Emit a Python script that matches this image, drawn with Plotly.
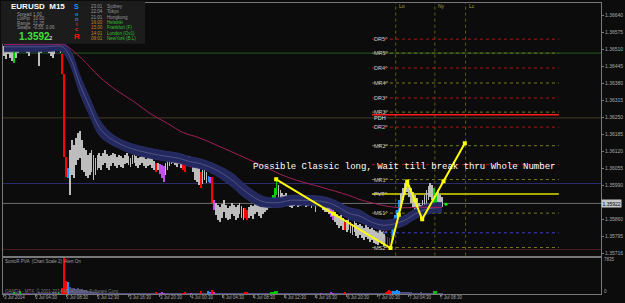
import plotly.graph_objects as go

# ---------------- data ----------------
bar_high = [
    1.36523, 1.36515, 1.36527, 1.36519, 1.36512, 1.36504, 1.36515, 1.36527, 1.36531, 1.36527,
    1.36531, 1.36534, 1.36527, 1.36523, 1.36531, 1.36538, 1.36542, 1.36542, 1.36523, 1.36531,
    1.36534, 1.36538, 1.36534, 1.36527, 1.36519, 1.36515, 1.36523, 1.36527, 1.36531, 1.36527,
    1.36493, 1.36417, 1.36098, 1.36056, 1.36124, 1.36162, 1.36143, 1.36170, 1.36189, 1.36200,
    1.36162, 1.36132, 1.36124, 1.36105, 1.36116, 1.36124, 1.36105, 1.36094, 1.36105, 1.36113,
    1.36101, 1.36116, 1.36124, 1.36109, 1.36101, 1.36105, 1.36116, 1.36109, 1.36098, 1.36105,
    1.36101, 1.36094, 1.36105, 1.36113, 1.36101, 1.36094, 1.36105, 1.36109, 1.36101, 1.36094,
    1.36098, 1.36105, 1.36098, 1.36090, 1.36094, 1.36098, 1.36090, 1.36082, 1.36075, 1.36078,
    1.36071, 1.36067, 1.36063, 1.36075, 1.36086, 1.36094, 1.36101, 1.36105, 1.36098, 1.36094,
    1.36101, 1.36094, 1.36086, 1.36086, 1.36094, 1.36101, 1.36094, 1.36086, 1.36075, 1.36067,
    1.36056, 1.36040, 1.36048, 1.36056, 1.36040, 1.36025, 1.36021, 1.36021, 1.35934, 1.35923,
    1.35915, 1.35907, 1.35919, 1.35934, 1.35915, 1.35904, 1.35911, 1.35923, 1.35915, 1.35907,
    1.35915, 1.35923, 1.35911, 1.35904, 1.35904, 1.35896, 1.35907, 1.35915, 1.35911, 1.35919,
    1.35923, 1.35915, 1.35907, 1.35915, 1.35923, 1.35934, 1.35926, 1.35934, 1.35953, 1.35980,
    1.36014, 1.35991, 1.35972, 1.35961, 1.35953, 1.35961, 1.35949, 1.35942, 1.35934, 1.35945,
    1.35938, 1.35942, 1.35934, 1.35938, 1.35942, 1.35934, 1.35938, 1.35942, 1.35934, 1.35938,
    1.35945, 1.35942, 1.35938, 1.35942, 1.35934, 1.35926, 1.35919, 1.35923, 1.35904, 1.35896,
    1.35888, 1.35881, 1.35873, 1.35877, 1.35866, 1.35850, 1.35858, 1.35866, 1.35850, 1.35843,
    1.35854, 1.35847, 1.35839, 1.35843, 1.35835, 1.35828, 1.35839, 1.35831, 1.35824, 1.35828,
    1.35820, 1.35812, 1.35809, 1.35820, 1.35812, 1.35805, 1.35797, 1.35793, 1.35790, 1.35820,
    1.35831, 1.35877, 1.35896, 1.35934, 1.35961, 1.35980, 1.35999, 1.36006, 1.35991, 1.35980,
    1.35964, 1.35953, 1.35942, 1.35923, 1.35915, 1.35934, 1.35953, 1.35972, 1.35987, 1.35999,
    1.35991, 1.35980, 1.35961, 1.35972, 1.35953, 1.35945,
]
bar_low = [
    1.36485, 1.36474, 1.36493, 1.36477, 1.36466, 1.36458, 1.36477, 1.36496, 1.36512, 1.36504,
    1.36508, 1.36512, 1.36496, 1.36485, 1.36504, 1.36515, 1.36519, 1.36512, 1.36447, 1.36496,
    1.36508, 1.36512, 1.36504, 1.36496, 1.36485, 1.36477, 1.36493, 1.36504, 1.36512, 1.36496,
    1.36417, 1.36098, 1.36021, 1.36018, 1.35953, 1.36029, 1.36018, 1.36067, 1.36086, 1.36094,
    1.36048, 1.36040, 1.36025, 1.36018, 1.36029, 1.36040, 1.36010, 1.36029, 1.36048, 1.36056,
    1.36048, 1.36067, 1.36075, 1.36056, 1.36048, 1.36063, 1.36075, 1.36063, 1.36056, 1.36067,
    1.36060, 1.36056, 1.36071, 1.36078, 1.36067, 1.36060, 1.36071, 1.36078, 1.36063, 1.36056,
    1.36067, 1.36075, 1.36063, 1.36056, 1.36063, 1.36067, 1.36056, 1.36048, 1.36040, 1.36048,
    1.36033, 1.36018, 1.36002, 1.36029, 1.36048, 1.36063, 1.36071, 1.36078, 1.36067, 1.36060,
    1.36071, 1.36056, 1.36048, 1.36040, 1.36063, 1.36071, 1.36060, 1.36040, 1.36010, 1.36002,
    1.35991, 1.35980, 1.35995, 1.36010, 1.35999, 1.36002, 1.35999, 1.35923, 1.35896, 1.35877,
    1.35858, 1.35850, 1.35866, 1.35888, 1.35866, 1.35858, 1.35862, 1.35881, 1.35873, 1.35858,
    1.35866, 1.35881, 1.35866, 1.35858, 1.35866, 1.35858, 1.35866, 1.35873, 1.35862, 1.35881,
    1.35888, 1.35873, 1.35866, 1.35881, 1.35888, 1.35896, 1.35904, 1.35904, 1.35915, 1.35926,
    1.35953, 1.35934, 1.35919, 1.35907, 1.35915, 1.35923, 1.35911, 1.35907, 1.35904, 1.35911,
    1.35915, 1.35907, 1.35911, 1.35915, 1.35919, 1.35907, 1.35911, 1.35915, 1.35904, 1.35911,
    1.35888, 1.35915, 1.35911, 1.35919, 1.35896, 1.35888, 1.35888, 1.35881, 1.35869, 1.35858,
    1.35850, 1.35839, 1.35828, 1.35835, 1.35820, 1.35820, 1.35812, 1.35820, 1.35809, 1.35801,
    1.35812, 1.35797, 1.35790, 1.35801, 1.35790, 1.35782, 1.35793, 1.35786, 1.35774, 1.35782,
    1.35771, 1.35767, 1.35763, 1.35774, 1.35767, 1.35759, 1.35759, 1.35755, 1.35752, 1.35763,
    1.35782, 1.35820, 1.35839, 1.35877, 1.35907, 1.35934, 1.35953, 1.35964, 1.35945, 1.35923,
    1.35907, 1.35896, 1.35888, 1.35873, 1.35862, 1.35877, 1.35896, 1.35915, 1.35934, 1.35945,
    1.35934, 1.35915, 1.35904, 1.35926, 1.35915, 1.35907,
]
# PVA class of each bar: n normal, r/g climax, b/p rising volume
bar_class = list(
    "nnnnngnngn" "nnnnnnnnnn" "nnnnnnnngn" "rrrbnnnnnn" "nnnnnnnnnn"
    "nnnnnnnnnn" "nnnnnnnnnn" "nnnnnnnnrn" "pppnnnnnnn" "nnrrnnpnnn"
    "nrnnnbprpn" "nnnnnnnnnn" "nnnnrrnnnn" "nnnnnnnggg" "gnnnnnnnnn"
    "nnnnnnnnnn" "nnnpnnnnpp" "nnnnnrnnnn" "nnnnnnnnnn" "nnnnnnrrrr"
    "bbbbnnnnnn" "nnnnnnnnnn" "nggnnn"
)
volumes = [
    300, 250, 280, 320, 350, 600, 300, 280, 650, 400,
    260, 240, 300, 350, 280, 250, 220, 300, 450, 320,
    260, 240, 230, 280, 320, 500, 450, 300, 550, 400,
    1400, 7835, 2800, 2750, 1500, 1300, 1450, 1200, 1350, 1100,
    1250, 1000, 900, 800, 650, 600, 550, 500, 420, 380,
    350, 320, 300, 280, 300, 260, 240, 250, 230, 220,
    210, 230, 220, 200, 210, 190, 200, 180, 200, 210,
    190, 180, 200, 210, 190, 200, 220, 240, 450, 260,
    380, 420, 400, 260, 230, 210, 200, 190, 200, 210,
    200, 220, 380, 420, 230, 210, 350, 240, 280, 300,
    320, 650, 300, 280, 260, 700, 550, 950, 500, 350,
    320, 300, 280, 260, 280, 300, 260, 240, 250, 260,
    240, 230, 250, 260, 520, 600, 280, 250, 240, 230,
    220, 240, 230, 220, 210, 250, 260, 450, 550, 700,
    650, 320, 300, 260, 240, 230, 220, 210, 200, 210,
    200, 190, 200, 210, 190, 200, 180, 190, 200, 210,
    300, 210, 200, 350, 230, 240, 250, 260, 420, 400,
    300, 320, 340, 300, 320, 600, 300, 280, 300, 320,
    290, 300, 320, 300, 310, 330, 300, 320, 350, 330,
    340, 360, 350, 330, 350, 380, 600, 750, 850, 700,
    650, 800, 900, 700, 500, 520, 480, 550, 450, 420,
    400, 380, 360, 380, 420, 400, 380, 360, 340, 350,
    380, 650, 700, 360, 300, 250,
]

band_bars = [0, 10, 20, 30, 32, 35, 39, 44, 49, 54, 59, 65, 75, 84, 90, 95, 100, 105, 112, 118,
             122, 130, 135, 142, 147, 152, 163, 170, 177, 183, 189, 195, 202, 207, 210, 217, 225]
band_upper = [1.36538, 1.36538, 1.36538, 1.36538, 1.36527, 1.36493, 1.36409, 1.36325, 1.36242, 1.36196,
              1.36170, 1.36151, 1.36132, 1.36120, 1.36113, 1.36101, 1.36094, 1.36082, 1.36059, 1.36033,
              1.36006, 1.35961, 1.35945, 1.35945, 1.35953, 1.35953, 1.35949, 1.35934, 1.35907, 1.35896,
              1.35869, 1.35858, 1.35866, 1.35881, 1.35896, 1.35919, 1.35926]
band_mid = [1.36519, 1.36519, 1.36519, 1.36519, 1.36504, 1.36462, 1.36375, 1.36291, 1.36211, 1.36173,
            1.36151, 1.36132, 1.36113, 1.36101, 1.36094, 1.36082, 1.36075, 1.36063, 1.36037, 1.36006,
            1.35980, 1.35938, 1.35926, 1.35926, 1.35934, 1.35934, 1.35930, 1.35915, 1.35885, 1.35873,
            1.35850, 1.35839, 1.35847, 1.35862, 1.35877, 1.35900, 1.35907]
band_lower = [1.36500, 1.36500, 1.36500, 1.36500, 1.36481, 1.36432, 1.36341, 1.36257, 1.36181, 1.36151,
              1.36132, 1.36113, 1.36094, 1.36082, 1.36075, 1.36063, 1.36056, 1.36044, 1.36014, 1.35980,
              1.35953, 1.35915, 1.35907, 1.35907, 1.35915, 1.35915, 1.35911, 1.35896, 1.35862, 1.35850,
              1.35831, 1.35820, 1.35828, 1.35843, 1.35858, 1.35881, 1.35888]

ema_bars = [0, 30, 32, 40, 49, 58, 66, 75, 84, 92, 100, 112, 130, 146, 163, 177, 184, 201, 213, 225]
ema_vals = [1.36527, 1.36527, 1.36523, 1.36474, 1.36405, 1.36352, 1.36314, 1.36265, 1.36227, 1.36192,
            1.36173, 1.36135, 1.36075, 1.36021, 1.35984, 1.35953, 1.35934, 1.35907, 1.35907, 1.35907]

pivot_names = ["DR5^", "MR5^", "DR4^", "MR4^", "DR3^", "MR3^", "DR2^", "MR2^",
               "DR1^", "MR1^", "PVT^", "MS1^", "DS1^", "MS2^"]
pivot_prices = [1.36548, 1.36495, 1.36438, 1.36381, 1.36324, 1.36270, 1.36213, 1.36142,
                1.36070, 1.36013, 1.35958, 1.35885, 1.35810, 1.35754]
hidden_labels = ["DR1^"]  # covered by the comment text in the reference
pivot_start, pivot_end = 189, 285
pdh_price = 1.36260

level_prices = [1.36495, 1.36248, 1.35998, 1.35922, 1.35746]
level_colors = ["#1f5c1f", "#4a3a28", "#2c2c6a", "#6e6e6e", "#4a1e1e"]
bid_price = 1.35922

session_names = ["Lo", "Ny", "Lc"]
session_bars = [201.2, 221.3, 237.1]

zig_bars = [139.8, 198.5, 207.1, 214.8, 236.7]
zig_prices = [1.36014, 1.35752, 1.36006, 1.35862, 1.36151]
dot_bar, dot_price = 227, 1.35919

x_tick_bars = [0, 16, 32, 48, 64, 80, 96, 112, 128, 144, 160, 176, 192, 208, 224]
x_tick_labels = ["3 Jul 2014", "3 Jul 04:30", "3 Jul 08:30", "3 Jul 12:30", "3 Jul 16:30",
                 "3 Jul 20:30", "4 Jul 00:30", "4 Jul 04:30", "4 Jul 08:30", "4 Jul 12:30",
                 "4 Jul 16:30", "6 Jul 20:30", "7 Jul 00:30", "7 Jul 04:30", "7 Jul 08:30"]
price_ticks = [1.36640, 1.36575, 1.36510, 1.36445, 1.36380, 1.36315, 1.36250, 1.36185,
               1.36120, 1.36055, 1.35990, 1.35860, 1.35795, 1.35733]
price_tick_text = ["1.36640", "1.36575", "1.36510", "1.36445", "1.36380", "1.36315", "1.36250",
                   "1.36185", "1.36120", "1.36055", "1.35990", "1.35860", "1.35795", "1.35716"]
vol_max = 7835

# ---------------- styling / layout helpers ----------------
W, H = 625, 303
ML, MR, MT, MB = 2, 21, 2, 9
PW, PH = W - ML - MR, H - MT - MB


def px(x):
    return (x - ML) / PW


def py(y):
    return (H - MB - y) / PH


BG = "#0c0c0c"
AXC = "#a8a8a8"
FRAME = "#787878"
cand_col = {"n": "#bdbdbd", "r": "#ff0000", "g": "#00d000", "b": "#1e90ff", "p": "#c050f0"}
vol_col = {"n": "#4c4c80", "r": "#ff0000", "g": "#00c000", "b": "#1e90ff", "p": "#b040e0"}

n = len(bar_high)
xs = list(range(n))
XR = [-0.5, -0.5 + PW / 1.96]

fig = go.Figure()

# dragon band
fig.add_trace(go.Scatter(x=band_bars, y=band_upper, mode="lines", line=dict(color="#2e3372", width=0.8, shape="spline"),
                         hoverinfo="skip", showlegend=False))
fig.add_trace(go.Scatter(x=band_bars, y=band_lower, mode="lines", line=dict(color="#2e3372", width=0.8, shape="spline"),
                         fill="tonexty", fillcolor="#23285e", hoverinfo="skip", showlegend=False))
fig.add_trace(go.Scatter(x=band_bars, y=band_mid, mode="lines", line=dict(color="#6e70a0", width=0.6, shape="spline"),
                         hoverinfo="skip", showlegend=False))
# slow EMA
fig.add_trace(go.Scatter(x=ema_bars, y=ema_vals, mode="lines", line=dict(color="#a0205a", width=1, shape="spline"),
                         hoverinfo="skip", showlegend=False))

# price bars
fig.add_trace(go.Bar(x=xs, base=bar_low, y=[h - l for h, l in zip(bar_high, bar_low)], width=0.42,
                     marker=dict(color=[cand_col[c] for c in bar_class], line=dict(width=0)),
                     hoverinfo="skip", showlegend=False))

# yellow trend lines
mid_x = [(a + b) / 2 for a, b in zip(zig_bars[:-1], zig_bars[1:])]
mid_y = [(a + b) / 2 for a, b in zip(zig_prices[:-1], zig_prices[1:])]
fig.add_trace(go.Scatter(x=zig_bars, y=zig_prices, mode="lines", line=dict(color="#ffff00", width=2),
                         hoverinfo="skip", showlegend=False))
fig.add_trace(go.Scatter(x=zig_bars + mid_x, y=zig_prices + mid_y, mode="markers",
                         marker=dict(symbol="square", size=4, color="#ffff00"),
                         hoverinfo="skip", showlegend=False))
fig.add_trace(go.Scatter(x=[dot_bar], y=[dot_price], mode="markers",
                         marker=dict(symbol="circle", size=3, color="#00ff00"),
                         hoverinfo="skip", showlegend=False))

# volume subwindow
fig.add_trace(go.Bar(x=xs, y=volumes, width=0.5, xaxis="x2", yaxis="y2",
                     marker=dict(color=[vol_col[c] for c in bar_class], line=dict(width=0)),
                     hoverinfo="skip", showlegend=False))

shapes = []
# full-width levels
for p, c in zip(level_prices, level_colors):
    shapes.append(dict(type="line", xref="paper", yref="y", x0=0, x1=1, y0=p, y1=p,
                       line=dict(color=c, width=1), layer="below"))
# pivot levels
ann = []
for name, p in zip(pivot_names, pivot_prices):
    if name.startswith("DR"):
        col, dash, wd = "#b41414", "dot", 1
    elif name.startswith("DS"):
        col, dash, wd = "#3c3ce0", "dot", 1
    elif name.startswith("PVT"):
        col, dash, wd = "#a8a800", "solid", 2
    else:
        col, dash, wd = "#7a7a18", "dot", 1
    shapes.append(dict(type="line", xref="x", yref="y", x0=pivot_start, x1=pivot_end, y0=p, y1=p,
                       line=dict(color=col, width=wd, dash=dash), layer="below"))
    if name not in hidden_labels:
        ann.append(dict(xref="x", yref="y", x=pivot_start, y=p, text=name, showarrow=False,
                        xanchor="left", yanchor="middle",
                        font=dict(size=5.5, color="#c8c8c8", family="Liberation Sans")))
shapes.append(dict(type="line", xref="x", yref="y", x0=pivot_start, x1=pivot_end, y0=pdh_price, y1=pdh_price,
                   line=dict(color="#ff1a1a", width=1.5), layer="below"))
ann.append(dict(xref="x", yref="y", x=pivot_start, y=1.36246, text="PDH", showarrow=False, xanchor="left",
                yanchor="middle", font=dict(size=5.5, color="#e0e0e0", family="Liberation Sans")))
# session lines
for nm, b in zip(session_names, session_bars):
    shapes.append(dict(type="line", xref="x", yref="y domain", x0=b, x1=b, y0=0, y1=1,
                       line=dict(color="#5e5e14", width=1, dash="dot"), layer="below"))
    ann.append(dict(xref="x", yref="paper", x=b, y=py(5), text=nm, showarrow=False, xanchor="left",
                    yanchor="middle", xshift=1, font=dict(size=5, color="#a0a040", family="Liberation Sans")))

# info panel
shapes.append(dict(type="rect", xref="paper", yref="paper", x0=px(0), x1=px(145), y0=py(0), y1=py(43),
                   fillcolor="#1c1c1c", line=dict(width=0), layer="above"))


def txt(x, y, s, size=4.5, color="#9a9a9a", bold=False, family="Liberation Sans", anchor="left"):
    ann.append(dict(xref="paper", yref="paper", x=px(x), y=py(y), text=("<b>%s</b>" % s) if bold else s,
                    showarrow=False, xanchor=anchor, yanchor="middle", borderpad=0,
                    font=dict(size=size, color=color, family=family)))


txt(9, 6, "EURUSD&nbsp;&nbsp;M15", 8, "#ffffff", bold=True)
for yy, lab, val in [(13.5, "Spread", "1.00"), (18, "LotPip", "10.00"), (22.5, "Range", "21.25"), (27, "Swaps", "-0.55, 0.06")]:
    txt(15, yy, lab)
    txt(31, yy, val)
txt(17, 36, "1.3592", 10, "#3ee03e", bold=True)
txt(47, 37, "2", 6, "#ffffff")
for yy, ch, col, sz in [(6, "S", "#1e90ff", 7), (13, "o", "#1e90ff", 5.5), (18.5, "n", "#4070ff", 5.5),
                        (23.5, "i", "#c04040", 5.5), (28.5, "c", "#e03030", 5.5), (35.5, "R", "#ff1010", 8)]:
    txt(76, yy, ch, sz, col, bold=True, anchor="center")
sess = [("23:01", "Sydney", "#9a9a9a", "#9a9a9a"), ("22:04", "Tokyo", "#9a9a9a", "#9a9a9a"),
        ("21:01", "Hongkong", "#9a9a9a", "#9a9a9a"), ("16:00", "Helsinki", "#d08020", "#30c030"),
        ("15:00", "Frankfurt (F)", "#d08020", "#30c030"), ("14:01", "London (Ov1)", "#d08020", "#30c030"),
        ("09:01", "NewYork (B.L)", "#d08020", "#30c030")]
for i, (t, nm, c1, c2) in enumerate(sess):
    yy = 5.3 + i * 5.4
    txt(90, yy, t, 4.5, c1)
    txt(106, yy, nm, 4.5, c2)

# comment text
txt(253, 167, "Possible Classic long, Wait till break thru Whole Number", 9, "#ffffff", family="Liberation Mono")

# subwindow texts
txt(3, 261, "SonicR PVA  (Chart Scale 2)  Alert On", 4.5, "#a0a0a0")
txt(3, 290.5, "OANDA - MT4, © 2001-2014 MetaQuotes Software Corp.", 4.5, "#7a7a7a")
txt(606, 259.5, str(vol_max), 4.5, AXC)
txt(606, 291, "0", 4.5, AXC)

# current price box
ann.append(dict(xref="paper", yref="y", x=1.0, y=bid_price, text="1.35922", showarrow=False, xanchor="left",
                yanchor="middle", bgcolor="#c8c8c8", borderpad=0.5,
                font=dict(size=5, color="#000000", family="Liberation Sans")))

# time labels
for b, lab in zip(x_tick_bars, x_tick_labels):
    ann.append(dict(xref="x2", yref="paper", x=b, y=py(298), text=lab, showarrow=False, xanchor="left",
                    yanchor="middle", xshift=-2, font=dict(size=4.5, color=AXC, family="Liberation Sans")))

fig.update_layout(
    width=W, height=H, margin=dict(l=ML, r=MR, t=MT, b=MB),
    paper_bgcolor=BG, plot_bgcolor=BG, barmode="overlay", bargap=0,
    xaxis=dict(domain=[0, 1], range=XR, anchor="y", showgrid=False, zeroline=False, showticklabels=False,
               showline=True, mirror=True, linecolor=FRAME, linewidth=1, ticks=""),
    yaxis=dict(domain=[py(255.5), 1], range=[1.35723, 1.36686], side="right", showgrid=False, zeroline=False,
               tickvals=price_ticks, ticktext=price_tick_text, ticks="outside", ticklen=2, tickcolor=FRAME,
               tickfont=dict(size=5, color=AXC, family="Liberation Sans"),
               showline=True, mirror=True, linecolor=FRAME, linewidth=1),
    xaxis2=dict(domain=[0, 1], range=XR, anchor="y2", showgrid=False, zeroline=False, showticklabels=False,
                tickvals=x_tick_bars, ticks="outside", ticklen=2, tickcolor=FRAME,
                showline=True, mirror=True, linecolor=FRAME, linewidth=1),
    yaxis2=dict(domain=[0, py(257.5)], range=[0, vol_max], side="right", showgrid=False, zeroline=False,
                showticklabels=False, ticks="", showline=True, mirror=True, linecolor=FRAME, linewidth=1),
    shapes=shapes, annotations=ann, showlegend=False,
)

fig.write_html("out.html", config={"displayModeBar": False})
